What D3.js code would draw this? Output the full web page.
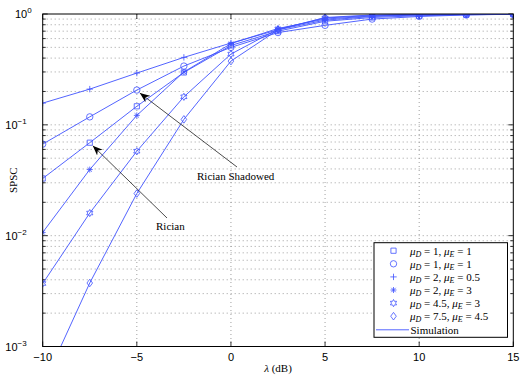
<!DOCTYPE html>
<html>
<head>
<meta charset="UTF-8">
<script src="https://d3js.org/d3.v7.min.js"></script>
<style>
  body { margin: 0; background: #fff; }
  svg { display: block; }
  .tick-lbl { font-family: "Liberation Sans", Arial, sans-serif; font-size: 11px; fill: #000; }
  .serif { font-family: "Liberation Serif", "Times New Roman", serif; font-size: 11px; fill: #000; }
</style>
</head>
<body>
<svg id="chart" width="526" height="379"></svg>
<script>
// snr in dB
const lambdaDb = [-10, -7.5, -5, -2.5, 0, 2.5, 5, 7.5, 10, 12.5, 15];

// SPSC curves
const spscD1E1a = [0.0328, 0.069, 0.147, 0.297, 0.52, 0.70, 0.86, 0.93, 0.965, 0.985, 0.995];
const spscD1E1b = [0.067, 0.118, 0.206, 0.339, 0.50, 0.68, 0.79, 0.90, 0.95, 0.98, 0.995];
const spscD2E05 = [0.157, 0.21, 0.293, 0.406, 0.547, 0.72, 0.88, 0.95, 0.98, 0.99, 0.997];
const spscD2E3 = [0.0107, 0.0395, 0.1216, 0.30, 0.54, 0.74, 0.90, 0.96, 0.985, 0.995, 0.999];
const spscD45E3 = [0.0037, 0.016, 0.0578, 0.179, 0.435, 0.73, 0.92, 0.97, 0.99, 0.997, 0.999];
const spscD75E45 = [0.00044, 0.00374, 0.024, 0.112, 0.376, 0.72, 0.93, 0.98, 0.995, 0.999, 1.0];

const seriesNames = [
  ["1", "1"], ["1", "1"], ["2", "0.5"], ["2", "3"], ["4.5", "3"], ["7.5", "4.5"]
];
const seriesMarkers = ["square", "circle", "plus", "asterisk", "hexagram", "diamond"];
const xTickLabels = [-10, -5, 0, 5, 10, 15];
const yTickExps = [0, -1, -2, -3];

const allSeries = [spscD1E1a, spscD1E1b, spscD2E05, spscD2E3, spscD45E3, spscD75E45];
const blue = "#3f52ff";

const svg = d3.select("#chart");
const m = { left: 42.7, right: 513.3, top: 14, bottom: 346.5 };

const x = d3.scaleLinear().domain([-10, 15]).range([m.left, m.right]);
const y = d3.scaleLog().domain([1e-3, 1]).range([m.bottom, m.top]);

// clip
svg.append("defs").append("clipPath").attr("id", "clip")
  .append("rect").attr("x", m.left).attr("y", m.top)
  .attr("width", m.right - m.left).attr("height", m.bottom - m.top);

svg.select("defs").append("marker")
  .attr("id", "arrow").attr("viewBox", "0 0 10 10")
  .attr("refX", 10).attr("refY", 5)
  .attr("markerWidth", 10).attr("markerHeight", 10)
  .attr("markerUnits", "userSpaceOnUse")
  .attr("orient", "auto")
  .append("path").attr("d", "M0,1 L10,5 L0,9 L3,5 Z").attr("fill", "#000");

// grid
const grid = svg.append("g");
const minorVals = [];
for (let e = -3; e < 0; e++) {
  for (let k = 1; k <= 9; k++) minorVals.push(k * Math.pow(10, e));
}
minorVals.push(1);
grid.selectAll(".gy").data(minorVals.filter(v => v > 1e-3 && v < 1)).enter()
  .append("line")
  .attr("x1", m.left).attr("x2", m.right)
  .attr("y1", d => y(d)).attr("y2", d => y(d))
  .attr("stroke", "#888").attr("stroke-width", 0.8)
  .attr("stroke-dasharray", "1,3");
grid.selectAll(".gx").data(xTickLabels.slice(1, -1)).enter()
  .append("line")
  .attr("x1", d => x(d)).attr("x2", d => x(d))
  .attr("y1", m.top).attr("y2", m.bottom)
  .attr("stroke", "#888").attr("stroke-width", 0.8)
  .attr("stroke-dasharray", "1,3");

// ticks (inward, both sides)
const ticks = svg.append("g").attr("stroke", "#000").attr("stroke-width", 0.8);
xTickLabels.forEach(t => {
  ticks.append("line").attr("x1", x(t)).attr("x2", x(t)).attr("y1", m.bottom).attr("y2", m.bottom - 5);
  ticks.append("line").attr("x1", x(t)).attr("x2", x(t)).attr("y1", m.top).attr("y2", m.top + 5);
});
minorVals.forEach(v => {
  const len = Math.abs(Math.log10(v) - Math.round(Math.log10(v))) < 1e-9 ? 5 : 3;
  ticks.append("line").attr("x1", m.left).attr("x2", m.left + len).attr("y1", y(v)).attr("y2", y(v));
  ticks.append("line").attr("x1", m.right).attr("x2", m.right - len).attr("y1", y(v)).attr("y2", y(v));
});

// curves
const plot = svg.append("g").attr("clip-path", "url(#clip)");
const line = d3.line().x((d, i) => x(lambdaDb[i])).y(d => y(d));
allSeries.forEach(s => {
  plot.append("path").attr("d", line(s))
    .attr("fill", "none").attr("stroke", blue).attr("stroke-width", 0.9);
});

function markerPath(type) {
  const p = d3.path();
  if (type === "square") { p.rect(-2.6, -2.6, 5.2, 5.2); }
  else if (type === "circle") { p.moveTo(3.2, 0); p.arc(0, 0, 3.2, 0, 2 * Math.PI); }
  else if (type === "plus") { p.moveTo(-3.2, 0); p.lineTo(3.2, 0); p.moveTo(0, -3.2); p.lineTo(0, 3.2); }
  else if (type === "asterisk") {
    p.moveTo(-3, 0); p.lineTo(3, 0); p.moveTo(0, -3); p.lineTo(0, 3);
    p.moveTo(-2.2, -2.2); p.lineTo(2.2, 2.2); p.moveTo(-2.2, 2.2); p.lineTo(2.2, -2.2);
  }
  else if (type === "hexagram") {
    for (let i = 0; i < 12; i++) {
      const r = i % 2 === 0 ? 3.6 : 2.0;
      const a = -Math.PI / 2 + i * Math.PI / 6;
      if (i === 0) p.moveTo(r * Math.cos(a), r * Math.sin(a));
      else p.lineTo(r * Math.cos(a), r * Math.sin(a));
    }
    p.closePath();
  }
  else if (type === "diamond") { p.moveTo(0, -3.8); p.lineTo(2.8, 0); p.lineTo(0, 3.8); p.lineTo(-2.8, 0); p.closePath(); }
  return p.toString();
}

allSeries.forEach((s, si) => {
  plot.selectAll(null).data(s).enter()
    .append("path")
    .attr("transform", (d, i) => `translate(${x(lambdaDb[i])},${y(d)})`)
    .attr("d", markerPath(seriesMarkers[si]))
    .attr("fill", "none").attr("stroke", blue).attr("stroke-width", 0.8);
});

// box
svg.append("rect").attr("x", m.left).attr("y", m.top)
  .attr("width", m.right - m.left).attr("height", m.bottom - m.top)
  .attr("fill", "none").attr("stroke", "#000").attr("stroke-width", 1);

// tick labels
svg.selectAll(".xl").data(xTickLabels).enter().append("text")
  .attr("class", "tick-lbl")
  .attr("x", d => x(d)).attr("y", m.bottom + 14)
  .attr("text-anchor", "middle")
  .text(d => d < 0 ? "\u2212" + Math.abs(d) : d);

yTickExps.forEach(e => {
  const t = svg.append("text").attr("class", "tick-lbl")
    .attr("x", m.left - 4 - (e < 0 ? 12 : 7)).attr("y", y(Math.pow(10, e)) + 4)
    .attr("text-anchor", "end");
  t.append("tspan").text("10");
  t.append("tspan").attr("dy", -5).attr("font-size", 8).text(e < 0 ? "\u2212" + Math.abs(e) : e);
});

// axis titles
svg.append("text").attr("class", "serif")
  .attr("x", (m.left + m.right) / 2).attr("y", 372).attr("text-anchor", "middle")
  .html('<tspan font-style="italic">λ</tspan> (dB)');
svg.append("text").attr("class", "serif")
  .attr("transform", `translate(17,${(m.top + m.bottom) / 2}) rotate(-90)`)
  .attr("text-anchor", "middle").text("SPSC");

// annotations
function annotate(label, tx, ty, x1, y1, xv, yv) {
  svg.append("line")
    .attr("x1", x1).attr("y1", y1)
    .attr("x2", x(xv) + 3).attr("y2", y(yv) + 3)
    .attr("stroke", "#000").attr("stroke-width", 0.7)
    .attr("marker-end", "url(#arrow)");
  svg.append("text").attr("class", "serif").attr("x", tx).attr("y", ty).text(label);
}
annotate("Rician Shadowed", 197, 180, 237, 167, -5, spscD1E1b[2]);
annotate("Rician", 156, 230, 167, 218, -7.5, spscD1E1a[1]);

// legend
const lg = svg.append("g");
const lx = 374, ly = 242.7, lw = 133.5, lh = 94.6;
lg.append("rect").attr("x", lx).attr("y", ly).attr("width", lw).attr("height", lh)
  .attr("fill", "#fff").attr("stroke", "#000").attr("stroke-width", 1);
const rowH = 13.1;
seriesNames.forEach((nm, i) => {
  const ry = ly + 8 + i * rowH;
  lg.append("path").attr("transform", `translate(${lx + 19.5},${ry})`)
    .attr("d", markerPath(seriesMarkers[i]))
    .attr("fill", "none").attr("stroke", blue).attr("stroke-width", 0.8);
  const t = lg.append("text").attr("class", "serif").attr("x", lx + 36).attr("y", ry + 4);
  t.append("tspan").attr("font-style", "italic").text("μ");
  t.append("tspan").attr("font-style", "italic").attr("font-size", 8).attr("dy", 2).text("D");
  t.append("tspan").attr("dy", -2).text(" = " + nm[0] + ", ");
  t.append("tspan").attr("font-style", "italic").text("μ");
  t.append("tspan").attr("font-style", "italic").attr("font-size", 8).attr("dy", 2).text("E");
  t.append("tspan").attr("dy", -2).text(" = " + nm[1]);
});
const simY = ly + 8 + 6 * rowH + 0.5;
lg.append("line").attr("x1", lx + 2).attr("x2", lx + 35).attr("y1", simY).attr("y2", simY)
  .attr("stroke", blue).attr("stroke-width", 0.9);
lg.append("text").attr("class", "serif").attr("x", lx + 36.5).attr("y", simY + 4).text("Simulation");
</script>
</body>
</html>
